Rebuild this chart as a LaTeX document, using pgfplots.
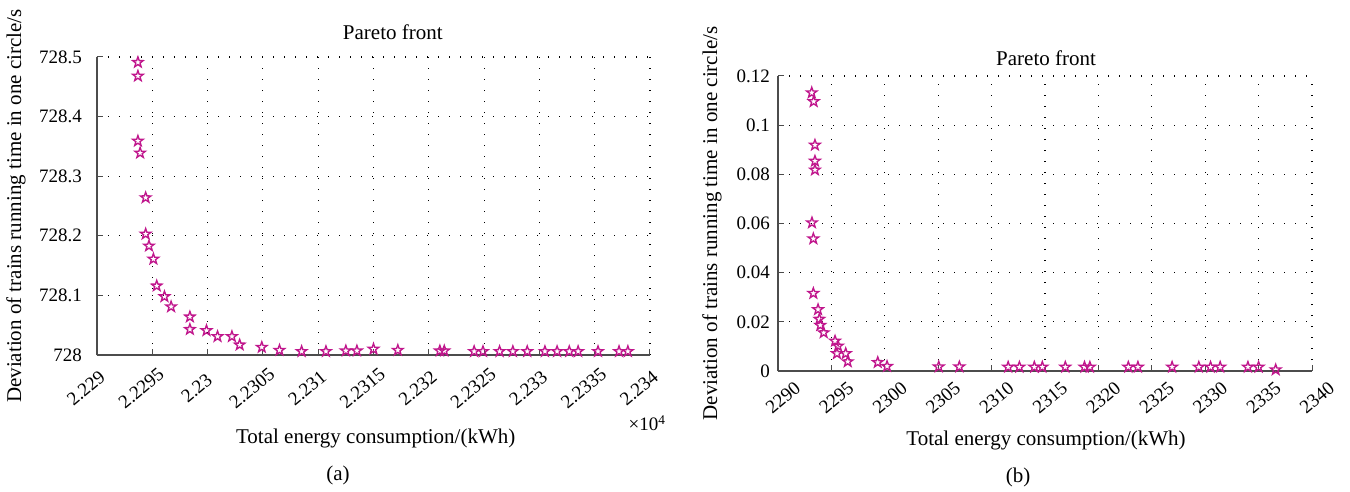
\documentclass[border=0pt]{standalone}
\usepackage{fontspec}
\setmainfont{Liberation Serif}
\usepackage{pgfplots}
\pgfplotsset{compat=1.18}
\definecolor{starc}{RGB}{192,22,140}
\pgfdeclareplotmark{pentagram}{%
  \pgfpathmoveto{\pgfpointpolar{90}{\pgfplotmarksize}}%
  \pgfpathlineto{\pgfpointpolar{126}{0.40\pgfplotmarksize}}%
  \pgfpathlineto{\pgfpointpolar{162}{\pgfplotmarksize}}%
  \pgfpathlineto{\pgfpointpolar{198}{0.40\pgfplotmarksize}}%
  \pgfpathlineto{\pgfpointpolar{234}{\pgfplotmarksize}}%
  \pgfpathlineto{\pgfpointpolar{270}{0.40\pgfplotmarksize}}%
  \pgfpathlineto{\pgfpointpolar{306}{\pgfplotmarksize}}%
  \pgfpathlineto{\pgfpointpolar{342}{0.40\pgfplotmarksize}}%
  \pgfpathlineto{\pgfpointpolar{18}{\pgfplotmarksize}}%
  \pgfpathlineto{\pgfpointpolar{54}{0.40\pgfplotmarksize}}%
  \pgfpathclose
  \pgfusepathqstroke
}
\pgfplotstableread{
x y
22293.7 728.491
22293.7 728.468
22293.7 728.359
22293.9 728.339
22294.4 728.264
22294.4 728.203
22294.7 728.183
22295.1 728.161
22295.4 728.116
22296.1 728.098
22296.7 728.081
22298.4 728.064
22298.4 728.043
22299.9 728.041
22300.9 728.031
22302.2 728.031
22302.9 728.017
22304.9 728.013
22306.5 728.008
22308.5 728.006
22310.7 728.006
22312.5 728.007
22313.5 728.007
22315.0 728.010
22317.2 728.008
22321.0 728.007
22321.4 728.007
22324.1 728.006
22324.9 728.006
22326.4 728.006
22327.6 728.006
22328.9 728.006
22330.5 728.006
22331.6 728.006
22332.7 728.006
22333.5 728.006
22335.3 728.006
22337.2 728.006
22338.0 728.006
}\dataA
\pgfplotstableread{
x y
2293.16 0.1132
2293.34 0.1096
2293.46 0.0919
2293.46 0.0854
2293.46 0.0818
2293.18 0.0603
2293.31 0.0538
2293.31 0.0316
2293.75 0.0250
2293.87 0.0211
2293.96 0.0186
2294.28 0.0156
2295.34 0.0122
2295.62 0.0102
2295.52 0.0071
2296.34 0.0071
2296.53 0.0038
2299.34 0.0035
2300.21 0.0019
2305.05 0.0017
2306.98 0.0017
2311.55 0.0016
2312.60 0.0016
2314.00 0.0016
2314.75 0.0016
2316.90 0.0016
2318.70 0.0016
2319.20 0.0016
2322.80 0.0016
2323.70 0.0016
2326.90 0.0016
2329.40 0.0016
2330.50 0.0016
2331.40 0.0016
2334.00 0.0016
2335.00 0.0016
2336.60 0.0005
}\dataB
\pgfplotsset{
  pfstyle/.style={
    scale only axis,
    axis x line*=bottom, axis y line*=left,
    axis line style={draw=black!70, line width=1.2pt, -},
    tick align=inside,
    major tick length=6pt,
    tick style={draw=black!70, line width=1pt},
    grid=major,
    major grid style={draw=black, line width=1.1pt, dash pattern=on 1.1pt off 9.9pt},
    clip=false,
    scaled x ticks=false, scaled y ticks=false,
    tick label style={font=\fontsize{19}{22}\selectfont},
    label style={font=\fontsize{21}{25}\selectfont},
    title style={font=\fontsize{21}{25}\selectfont},
    mark size=5.5pt,
  },
  pfplot/.style={only marks, mark=pentagram, color=starc, mark options={line width=1.35pt}},
}
\begin{document}
\begin{tikzpicture}
\path[use as bounding box] (0pt,0pt) rectangle (1350pt,491pt);
\begin{axis}[pfstyle,
  at={(97pt,136pt)}, anchor=south west,
  width=553pt, height=298pt,
  xmin=22290, xmax=22340, ymin=728, ymax=728.5,
  xtick={22290,22295,22300,22305,22310,22315,22320,22325,22330,22335,22340},
  xticklabels={2.229,2.2295,2.23,2.2305,2.231,2.2315,2.232,2.2325,2.233,2.2335,2.234},
  xticklabel style={anchor=center, inner sep=0pt, xshift=-11pt, yshift=-33pt, rotate=40},
  ytick={728,728.1,728.2,728.3,728.4,728.5},
  yticklabels={728,728.1,728.2,728.3,728.4,728.5},
  yticklabel style={anchor=east, inner sep=0pt, xshift=-15pt},
  title={Pareto front},
  title style={at={(axis description cs:0.535,1.064)}, anchor=center},
  xlabel={Total energy consumption/(kWh)},
  xlabel style={at={(axis description cs:0.504,-0.2785)}, anchor=center},
  ylabel={Deviation of trains running time in one circle/s},
  ylabel style={at={(axis description cs:-0.1465,0.5)}, anchor=center},
]
\addplot[pfplot] table[x=x,y=y] {\dataA};
\node[font=\fontsize{19}{22}\selectfont] at (axis description cs:1,0) [xshift=-3pt, yshift=-68pt] {×10\textsuperscript{4}};
\end{axis}
\begin{axis}[pfstyle,
  at={(778pt,120pt)}, anchor=south west,
  width=534pt, height=295pt,
  xmin=2290, xmax=2340, ymin=0, ymax=0.12,
  xtick={2290,2295,2300,2305,2310,2315,2320,2325,2330,2335,2340},
  xticklabels={2290,2295,2300,2305,2310,2315,2320,2325,2330,2335,2340},
  xticklabel style={anchor=center, inner sep=0pt, xshift=5pt, yshift=-27pt, rotate=40},
  ytick={0,0.02,0.04,0.06,0.08,0.1,0.12},
  yticklabels={0,0.02,0.04,0.06,0.08,0.1,0.12},
  yticklabel style={anchor=east, inner sep=0pt, xshift=-8pt},
  title={Pareto front},
  title style={at={(axis description cs:0.502,1.04)}, anchor=center},
  xlabel={Total energy consumption/(kWh)},
  xlabel style={at={(axis description cs:0.502,-0.234)}, anchor=center},
  ylabel={Deviation of trains running time in one circle/s},
  ylabel style={at={(axis description cs:-0.1236,0.5)}, anchor=center},
]
\addplot[pfplot] table[x=x,y=y] {\dataB};
\end{axis}
\node[font=\fontsize{21}{25}\selectfont] at (338pt,16pt) {(a)};
\node[font=\fontsize{21}{25}\selectfont] at (1018pt,14pt) {(b)};
\end{tikzpicture}
\end{document}
